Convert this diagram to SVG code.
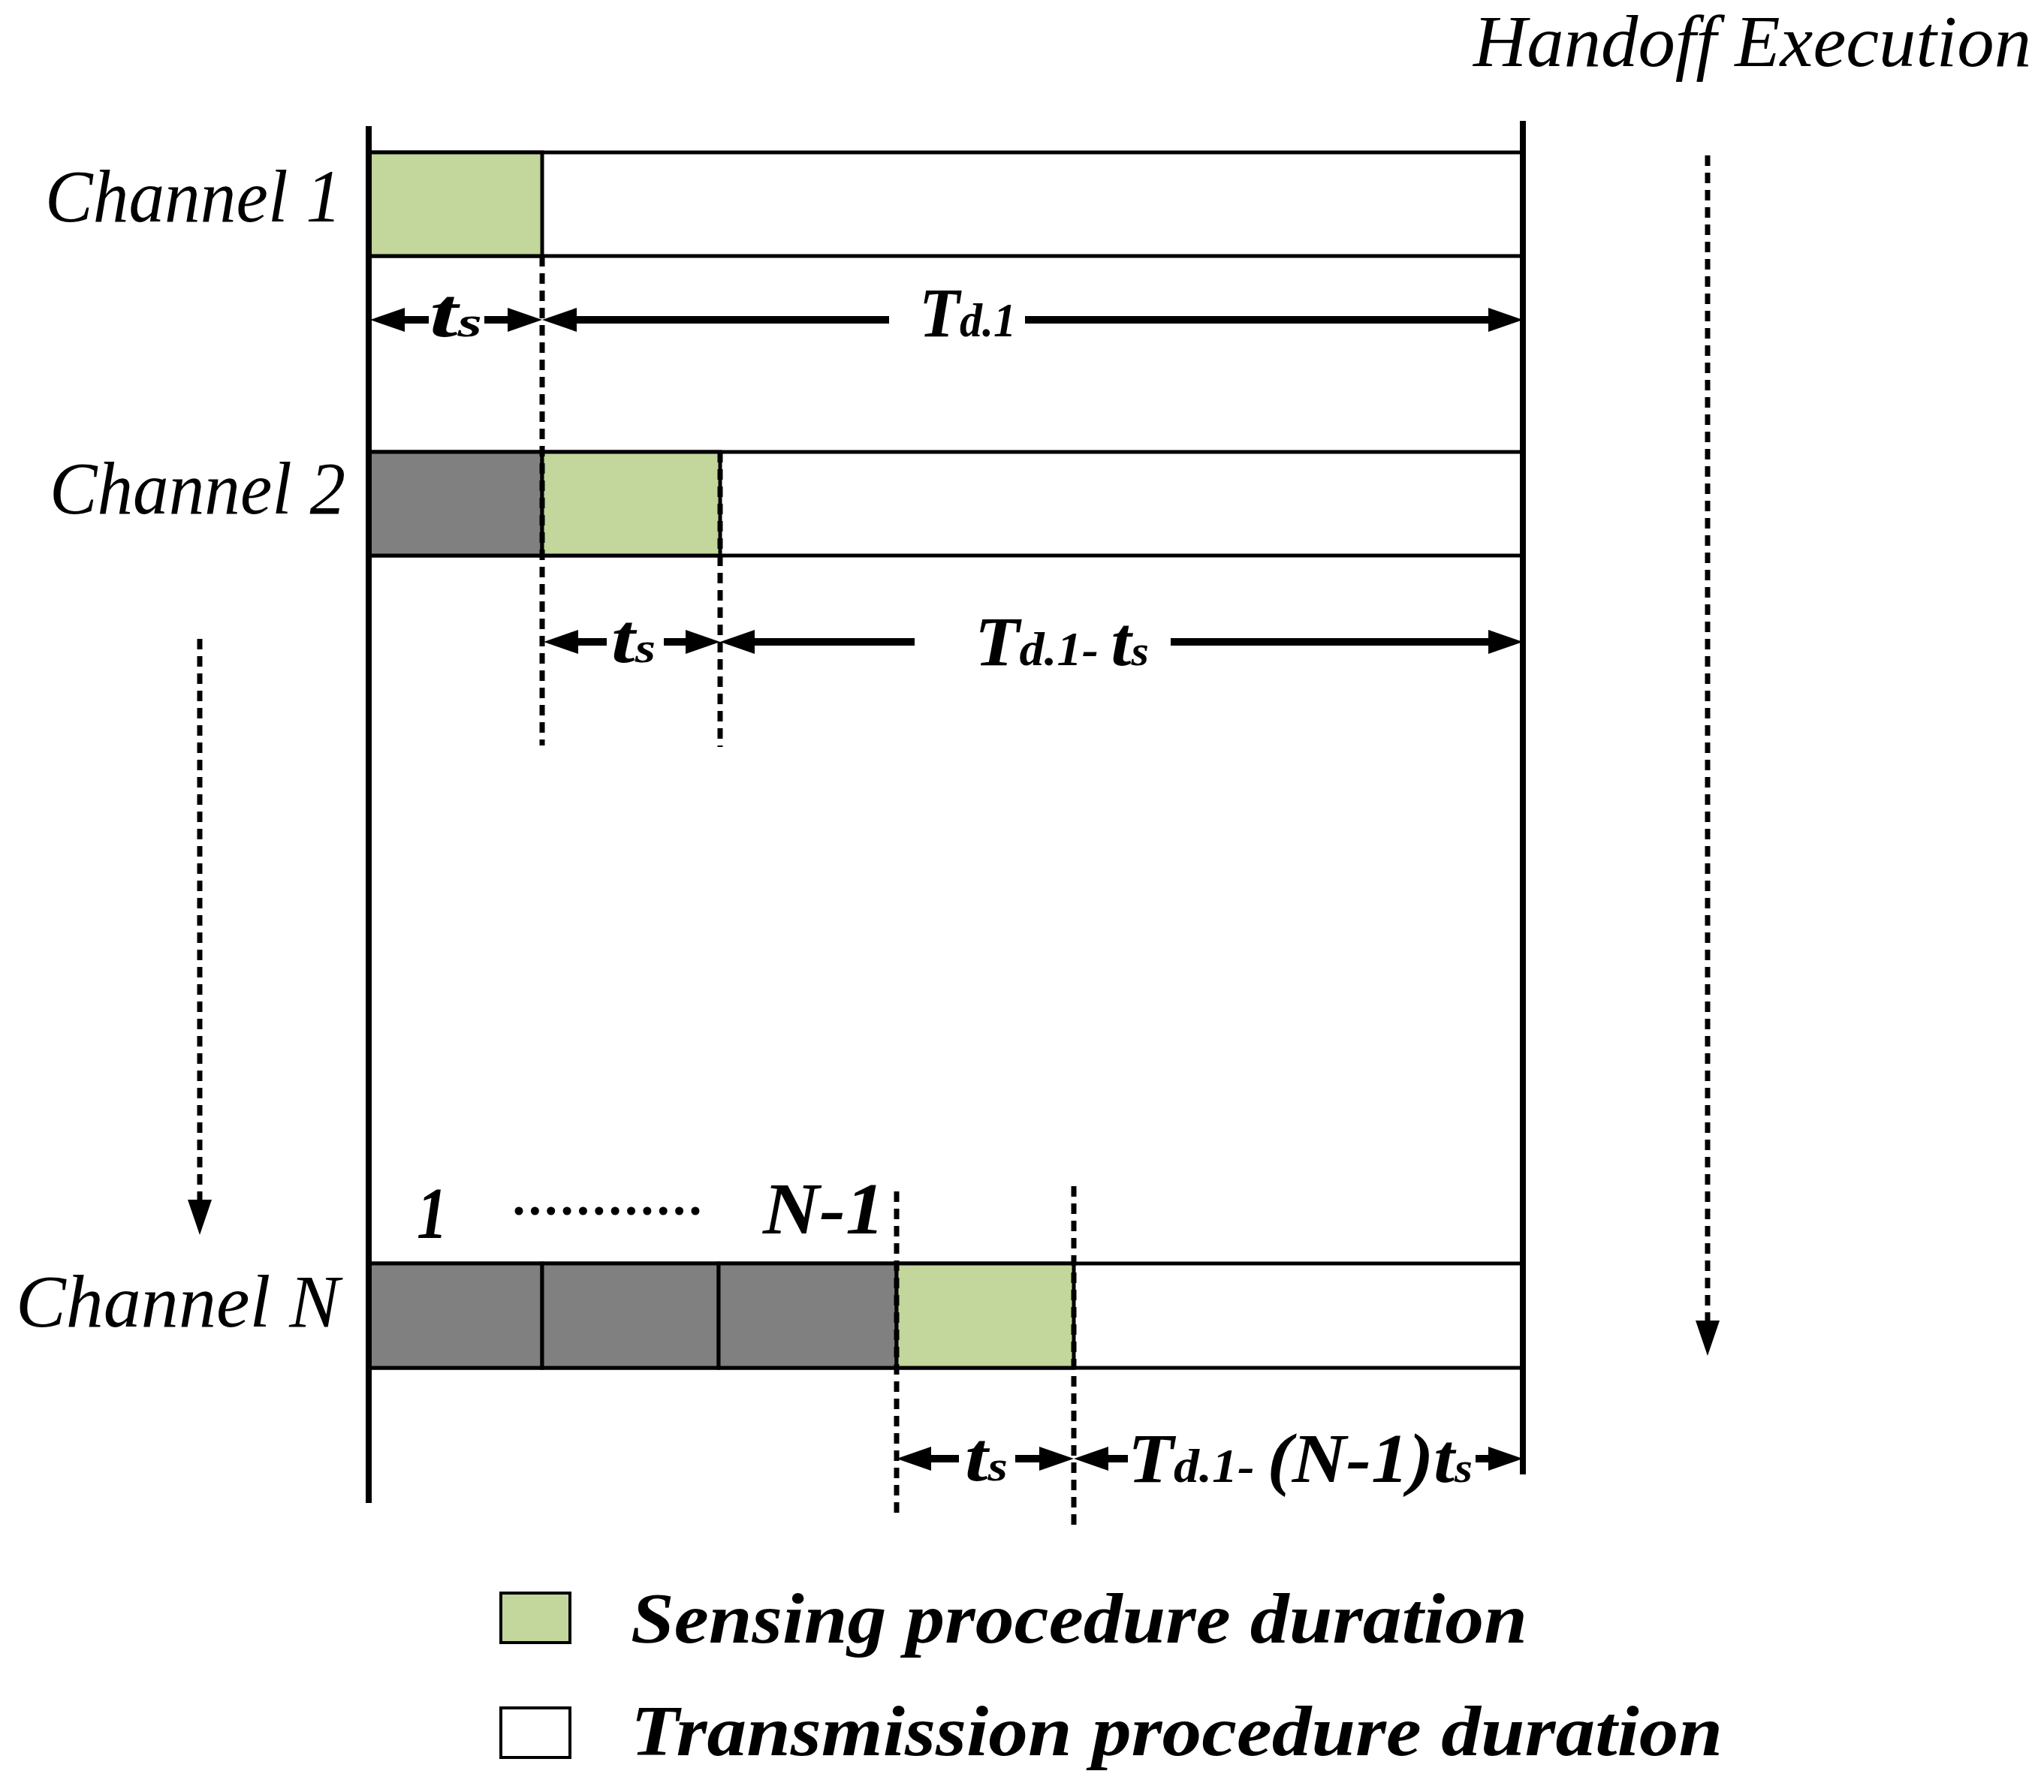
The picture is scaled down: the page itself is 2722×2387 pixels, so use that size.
<svg xmlns="http://www.w3.org/2000/svg" width="2722" height="2387" viewBox="0 0 2722 2387">
<style>
.lbl{font-family:"Liberation Serif","Times New Roman",serif;font-style:italic;fill:#000}
.b{font-weight:bold}
.bar{stroke:#000;stroke-width:5}
.tx{fill:#fff}
.sen{fill:#C3D69B}
.busy{fill:#808080}
.frame{stroke:#000;stroke-width:8;fill:none}
.dim{stroke:#000;stroke-width:10;fill:none}
.dash{stroke:#000;stroke-width:7;stroke-dasharray:14 9;fill:none}
</style>
<defs>
<marker id="ah" viewBox="0 0 46 32" markerWidth="46" markerHeight="32" refX="0" refY="16" orient="auto" markerUnits="userSpaceOnUse"><path d="M0,0 L46,16 L0,32 Z" fill="#000"/></marker>
<marker id="dh" viewBox="0 0 47 32" markerWidth="47" markerHeight="32" refX="0" refY="16" orient="auto" markerUnits="userSpaceOnUse"><path d="M0,0 L47,16 L0,32 Z" fill="#000"/></marker>
</defs>
<rect width="2722" height="2387" fill="#fff"/>

<text id="handoff" class="lbl" x="1962" y="88" font-size="98" textLength="743" lengthAdjust="spacingAndGlyphs">Handoff Execution</text>

<g id="channel-1">
<rect class="bar tx" x="491" y="203" width="1537" height="138"/>
<rect class="bar sen" x="491" y="203" width="231" height="138"/>
<text class="lbl" x="60" y="295" font-size="100" textLength="395" lengthAdjust="spacingAndGlyphs">Channel 1</text>
</g>

<g id="channel-2">
<rect class="bar tx" x="491" y="602" width="1537" height="138"/>
<rect class="bar busy" x="491" y="602" width="231" height="138"/>
<rect class="bar sen" x="722" y="602" width="237" height="138"/>
<text class="lbl" x="66" y="684" font-size="100" textLength="394" lengthAdjust="spacingAndGlyphs">Channel 2</text>
</g>

<g id="channel-n">
<rect class="bar tx" x="491" y="1683" width="1537" height="139"/>
<rect class="bar busy" x="491" y="1683" width="231" height="139"/>
<rect class="bar busy" x="722" y="1683" width="235" height="139"/>
<rect class="bar busy" x="957" y="1683" width="237" height="139"/>
<rect class="bar sen" x="1194" y="1683" width="236" height="139"/>
<text class="lbl" x="21" y="1767" font-size="100" textLength="431" lengthAdjust="spacingAndGlyphs">Channel N</text>
<text class="lbl b" x="555" y="1649" font-size="97" textLength="41" lengthAdjust="spacingAndGlyphs">1</text>
<text class="lbl b" x="1016" y="1643" font-size="97" textLength="162" lengthAdjust="spacingAndGlyphs">N-1</text>
<line x1="691" y1="1613" x2="926" y2="1613" stroke="#000" stroke-width="11" stroke-linecap="round" stroke-dasharray="0 21.36"/>
</g>

<g id="frame">
<line class="frame" x1="491" y1="168" x2="491" y2="2002"/>
<line class="frame" x1="2028" y1="161" x2="2028" y2="1964"/>
</g>

<g id="connectors">
<!-- guide dashed lines -->
<line class="dash" x1="722" y1="341" x2="722" y2="993"/>
<line class="dash" x1="959" y1="602" x2="959" y2="995"/>
<line class="dash" x1="1194" y1="1587" x2="1194" y2="2020"/>
<line class="dash" x1="1430" y1="1580" x2="1430" y2="2034"/>
<!-- progression arrows -->
<line class="dash" x1="266" y1="851" x2="266" y2="1598" marker-end="url(#dh)"/>
<line class="dash" x1="2274" y1="207" x2="2274" y2="1759" marker-end="url(#dh)"/>
<!-- row 1 -->
<line class="dim" x1="571" y1="426" x2="539" y2="426" marker-end="url(#ah)"/>
<line class="dim" x1="645" y1="426" x2="676" y2="426" marker-end="url(#ah)"/>
<line class="dim" x1="1184" y1="426" x2="768" y2="426" marker-end="url(#ah)"/>
<line class="dim" x1="1365" y1="426" x2="1982" y2="426" marker-end="url(#ah)"/>
<!-- row 2 -->
<line class="dim" x1="808" y1="855" x2="770" y2="855" marker-end="url(#ah)"/>
<line class="dim" x1="884" y1="855" x2="913" y2="855" marker-end="url(#ah)"/>
<line class="dim" x1="1218" y1="855" x2="1005" y2="855" marker-end="url(#ah)"/>
<line class="dim" x1="1559" y1="855" x2="1982" y2="855" marker-end="url(#ah)"/>
<!-- row N -->
<line class="dim" x1="1277" y1="1943" x2="1240" y2="1943" marker-end="url(#ah)"/>
<line class="dim" x1="1352" y1="1943" x2="1384" y2="1943" marker-end="url(#ah)"/>
<line class="dim" x1="1502" y1="1943" x2="1476" y2="1943" marker-end="url(#ah)"/>
<line class="dim" x1="1965" y1="1943" x2="1982" y2="1943" marker-end="url(#ah)"/>
</g>

<g id="dim-labels">
<text class="lbl b" x="572" y="448" textLength="70" lengthAdjust="spacingAndGlyphs"><tspan font-size="94">t</tspan><tspan font-size="58">s</tspan></text>
<text class="lbl b" x="1224" y="448" textLength="129" lengthAdjust="spacingAndGlyphs"><tspan font-size="94">T</tspan><tspan font-size="64">d.1</tspan></text>
<text class="lbl b" x="814" y="882" textLength="59" lengthAdjust="spacingAndGlyphs"><tspan font-size="94">t</tspan><tspan font-size="58">s</tspan></text>
<text class="lbl b" x="1298" y="886" textLength="232" lengthAdjust="spacingAndGlyphs"><tspan font-size="94">T</tspan><tspan font-size="64">d.1- </tspan><tspan font-size="94">t</tspan><tspan font-size="58">s</tspan></text>
<text class="lbl b" x="1285" y="1972" textLength="57" lengthAdjust="spacingAndGlyphs"><tspan font-size="94">t</tspan><tspan font-size="58">s</tspan></text>
<text class="lbl b" x="1502" y="1974" textLength="459" lengthAdjust="spacingAndGlyphs"><tspan font-size="94">T</tspan><tspan font-size="64">d.1- </tspan><tspan font-size="94">(N-1)t</tspan><tspan font-size="58">s</tspan></text>
</g>

<g id="legend">
<rect x="667" y="2122" width="92" height="66" fill="#C3D69B" stroke="#000" stroke-width="4"/>
<text class="lbl b" x="840" y="2188" font-size="96" textLength="1194" lengthAdjust="spacingAndGlyphs">Sensing procedure duration</text>
<rect x="667" y="2275" width="92" height="66" fill="#fff" stroke="#000" stroke-width="4"/>
<text class="lbl b" x="840" y="2338" font-size="96" textLength="1454" lengthAdjust="spacingAndGlyphs">Transmission procedure duration</text>
</g>
</svg>
